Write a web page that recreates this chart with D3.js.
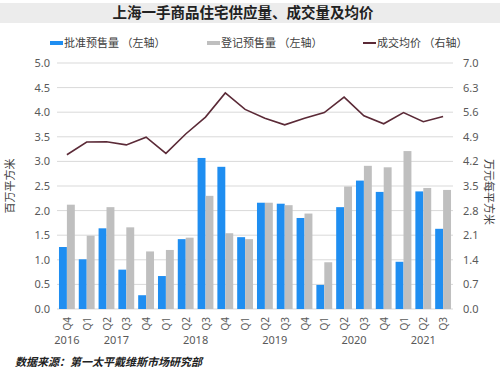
<!DOCTYPE html>
<html>
<head>
<meta charset="utf-8">
<script src="https://cdn.jsdelivr.net/npm/d3@7"></script>
<style>
  body { margin: 0; background: #fff; }
  text { font-family: "Noto Sans CJK SC", "Noto Sans", sans-serif; }
  text.num { font-family: "Noto Sans", "Liberation Sans", sans-serif; }
</style>
</head>
<body>
<div id="chart"></div>
<script>
// data
const quarters = ["Q4","Q1","Q2","Q3","Q4","Q1","Q2","Q3","Q4","Q1","Q2","Q3","Q4","Q1","Q2","Q3","Q4","Q1","Q2","Q3"];
const years = ["2016","2017","2017","2017","2017","2018","2018","2018","2018","2019","2019","2019","2019","2020","2020","2020","2020","2021","2021","2021"];
const approved = [1.26,1.01,1.64,0.80,0.28,0.67,1.42,3.07,2.89,1.46,2.16,2.14,1.85,0.49,2.07,2.61,2.38,0.96,2.39,1.63];
const registered = [2.12,1.49,2.07,1.66,1.17,1.20,1.45,2.30,1.54,1.42,2.16,2.11,1.94,0.95,2.49,2.91,2.88,3.21,2.46,2.42];
const avgPrice = [4.39,4.75,4.76,4.67,4.89,4.43,4.98,5.46,6.15,5.68,5.43,5.24,5.43,5.59,6.03,5.50,5.27,5.59,5.33,5.48];
const leftTicks = [0,0.5,1,1.5,2,2.5,3,3.5,4,4.5,5];
const rightTicks = [0,0.7,1.4,2.1,2.8,3.5,4.2,4.9,5.6,6.3,7.0];

const width = 500, height = 375;
const margin = {top: 63, right: 47, bottom: 66, left: 57};

const svg = d3.select("#chart").append("svg")
    .attr("width", width)
    .attr("height", height);

// title band
svg.append("rect")
    .attr("x", 0).attr("y", 3)
    .attr("width", width).attr("height", 20)
    .attr("fill", "#ececec");
svg.append("text")
    .attr("x", 243).attr("y", 18)
    .attr("text-anchor", "middle")
    .attr("font-size", 14.5).attr("font-weight", "bold")
    .attr("fill", "#222")
    .text("上海一手商品住宅供应量、成交量及均价");

// scales
const x = d3.scaleBand()
    .domain(d3.range(quarters.length))
    .range([margin.left, width - margin.right])
    .paddingInner(0.2)
    .paddingOuter(0.1);

const yL = d3.scaleLinear().domain([0, 5]).range([height - margin.bottom, margin.top]);
const yR = d3.scaleLinear().domain([0, 7]).range([height - margin.bottom, margin.top]);

// grid
svg.append("g")
  .selectAll("line")
  .data(leftTicks)
  .join("line")
    .attr("x1", margin.left).attr("x2", width - margin.right)
    .attr("y1", d => yL(d)).attr("y2", d => yL(d))
    .attr("stroke", "#d9d9d9").attr("stroke-width", 1);

// left axis
const leftAxis = svg.append("g")
    .attr("transform", `translate(${margin.left - 4},0)`)
    .call(d3.axisLeft(yL).tickValues(leftTicks).tickFormat(d3.format(".1f")).tickSize(0));
leftAxis.select(".domain").remove();
leftAxis.selectAll("text").attr("class", "num").attr("font-size", 11).attr("fill", "#595959");

// right axis
const rightAxis = svg.append("g")
    .attr("transform", `translate(${width - margin.right + 7},0)`)
    .call(d3.axisRight(yR).tickValues(rightTicks).tickFormat(d3.format(".1f")).tickSize(0));
rightAxis.select(".domain").remove();
rightAxis.selectAll("text").attr("class", "num").attr("font-size", 11).attr("fill", "#595959");

// bars
const sub = d3.scaleBand().domain([0, 1]).range([0, x.bandwidth()]);
const bars = svg.append("g");
bars.selectAll(".approved")
  .data(approved)
  .join("rect")
    .attr("class", "approved")
    .attr("x", (d, i) => x(i) + sub(0))
    .attr("width", sub.bandwidth())
    .attr("y", d => yL(d))
    .attr("height", d => yL(0) - yL(d))
    .attr("fill", "#1f8ef1");
bars.selectAll(".registered")
  .data(registered)
  .join("rect")
    .attr("class", "registered")
    .attr("x", (d, i) => x(i) + sub(1))
    .attr("width", sub.bandwidth())
    .attr("y", d => yL(d))
    .attr("height", d => yL(0) - yL(d))
    .attr("fill", "#bfbfbf");

// price line
const line = d3.line()
    .x((d, i) => x(i) + x.bandwidth() / 2)
    .y(d => yR(d));
svg.append("path")
    .datum(avgPrice)
    .attr("d", line)
    .attr("fill", "none")
    .attr("stroke", "#5b2a37")
    .attr("stroke-width", 1.6);

// x labels
svg.append("g")
  .selectAll("text")
  .data(quarters)
  .join("text")
    .attr("class", "num")
    .attr("transform", (d, i) => `translate(${x(i) + x.bandwidth() / 2 + 4},${yL(0) + 8}) rotate(-90)`)
    .attr("text-anchor", "end")
    .attr("font-size", 10).attr("fill", "#595959")
    .text(d => d);

const yearGroups = d3.groups(years.map((y, i) => ({y, i})), d => d.y);
svg.append("g")
  .selectAll("text")
  .data(yearGroups)
  .join("text")
    .attr("class", "num")
    .attr("x", d => d3.mean(d[1], e => x(e.i) + x.bandwidth() / 2))
    .attr("y", 344)
    .attr("text-anchor", "middle")
    .attr("font-size", 11).attr("fill", "#595959")
    .text(d => d[0]);

// axis titles
svg.append("text")
    .attr("transform", `translate(14,186) rotate(-90)`)
    .attr("text-anchor", "middle")
    .attr("font-size", 11).attr("fill", "#404040")
    .text("百万平方米");
svg.append("text")
    .attr("transform", `translate(485,192) rotate(90)`)
    .attr("text-anchor", "middle")
    .attr("font-size", 11).attr("fill", "#404040")
    .text("万元每平方米");

// legend
const legend = [
  {label: "批准预售量 （左轴）", color: "#1f8ef1", type: "rect", x: 50},
  {label: "登记预售量 （左轴）", color: "#bfbfbf", type: "rect", x: 207},
  {label: "成交均价 （右轴）", color: "#5b2a37", type: "line", x: 363}
];
const lg = svg.append("g").selectAll("g").data(legend).join("g")
    .attr("transform", d => `translate(${d.x},43)`);
lg.append("rect")
    .attr("x", 0).attr("y", d => d.type === "rect" ? -2 : -1)
    .attr("width", 13).attr("height", d => d.type === "rect" ? 4 : 2)
    .attr("fill", d => d.color);
lg.append("text")
    .attr("x", 14).attr("y", 4)
    .attr("font-size", 11).attr("fill", "#404040")
    .text(d => d.label);

// source
svg.append("text")
    .attr("x", 15).attr("y", 366)
    .attr("font-size", 11).attr("font-weight", "bold").attr("font-style", "italic")
    .attr("fill", "#222")
    .text("数据来源：第一太平戴维斯市场研究部");
</script>
</body>
</html>
